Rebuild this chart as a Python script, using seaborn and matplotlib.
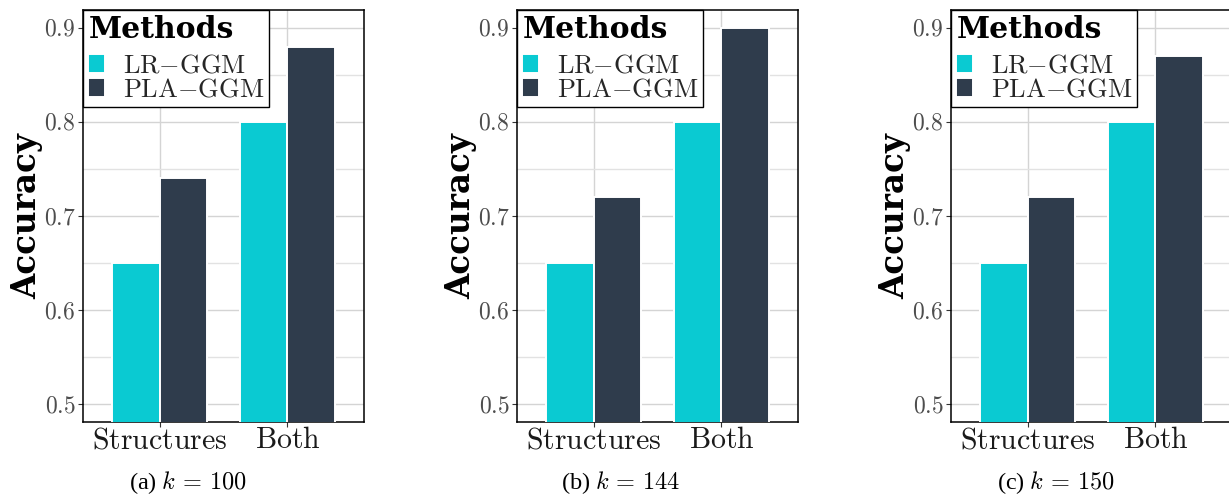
import pandas as pd
import seaborn as sns
import matplotlib.pyplot as plt
from matplotlib.ticker import FixedLocator

# data
categories = ["Structures", "Both"]
methods = ["LR-GGM", "PLA-GGM"]
panel_captions = [r"(a) $k\,=\,100$", r"(b) $k\,=\,144$", r"(c) $k\,=\,150$"]
lr_ggm = [[0.65, 0.80], [0.65, 0.80], [0.65, 0.80]]
pla_ggm = [[0.74, 0.88], [0.72, 0.90], [0.72, 0.87]]
y_major = [0.5, 0.6, 0.7, 0.8, 0.9]
y_minor = [0.55, 0.65, 0.75, 0.85]

colors = {"LR-GGM": "#0ACAD2", "PLA-GGM": "#2F3C4C"}

sns.set_theme(style="white")
plt.rcParams["mathtext.fontset"] = "cm"
plt.rcParams["font.family"] = ["Liberation Serif", "DejaVu Serif"]

W, H = 1229, 500
fig = plt.figure(figsize=(W / 100, H / 100), dpi=100)

ax_lefts = [83, 517, 951]
ax_w, ax_top, ax_bot = 281, 10, 422
caption_x = [188, 621, 1056]

for i in range(3):
    rows = []
    for j, cat in enumerate(categories):
        rows.append({"cat": cat, "method": methods[0], "acc": lr_ggm[i][j]})
        rows.append({"cat": cat, "method": methods[1], "acc": pla_ggm[i][j]})
    df = pd.DataFrame(rows)

    ax = fig.add_axes([ax_lefts[i] / W, (H - ax_bot) / H, ax_w / W, (ax_bot - ax_top) / H])
    sns.barplot(data=df, x="cat", y="acc", hue="method", hue_order=methods,
                order=categories, palette=colors, width=0.74, gap=0,
                edgecolor="white", linewidth=1.4, saturation=1, ax=ax, zorder=3)

    ax.set_xlim(-0.6, 1.6)
    ax.set_ylim(0.481, 0.919)
    ax.set_yticks(y_major)
    ax.set_yticklabels([f"${v:.1f}$" for v in y_major])
    ax.yaxis.set_minor_locator(FixedLocator(y_minor))
    ax.set_xticks([0, 1])
    ax.set_xticklabels([r"$\mathrm{%s}$" % c for c in categories])

    ax.set_axisbelow(True)
    ax.grid(True, which="major", axis="both", color="#d4d4d4", linewidth=1.0)
    ax.grid(True, which="minor", axis="y", color="#e2e2e2", linewidth=1.0)
    ax.tick_params(axis="y", which="major", labelsize=17, labelcolor="#4d4d4d",
                   color="#333333", length=3.5, width=0.8, left=True, pad=2)
    ax.tick_params(axis="x", which="major", labelsize=21.5, labelcolor="#1a1a1a",
                   color="#333333", length=3.5, width=0.8, bottom=True, pad=1)
    ax.tick_params(which="minor", length=0)

    for s in ax.spines.values():
        s.set_color("black")
        s.set_linewidth(1.1)

    ax.set_xlabel("")
    ax.set_ylabel("Accuracy", fontsize=23.5, fontweight="bold",
                  family=["DejaVu Serif"], color="black")
    ax.yaxis.set_label_coords(-0.142, 0.5)

    old = ax.get_legend()
    handles = old.legend_handles
    old.remove()
    leg = ax.legend(handles, [r"$\mathrm{LR{-}GGM}$", r"$\mathrm{PLA{-}GGM}$"],
                    title="Methods", fontsize=19,
                    title_fontproperties={"family": "DejaVu Serif", "weight": "bold", "size": 21.5},
                    loc="upper left", bbox_to_anchor=(0, 1), borderaxespad=0,
                    frameon=True, fancybox=False, framealpha=1, edgecolor="black",
                    handlelength=0.65, handleheight=0.75, handletextpad=0.65,
                    labelspacing=0.0, borderpad=0.2, alignment="left")
    leg._legend_box.sep = 7  # gap between title and entries, in points
    leg.get_frame().set_linewidth(1.0)
    leg.get_title().set_color("black")
    leg.set_zorder(5)

    fig.text(caption_x[i] / W, 17 / H, panel_captions[i], ha="center", va="center",
             fontsize=17.5, color="black")

fig.savefig("out.png", dpi=100)
